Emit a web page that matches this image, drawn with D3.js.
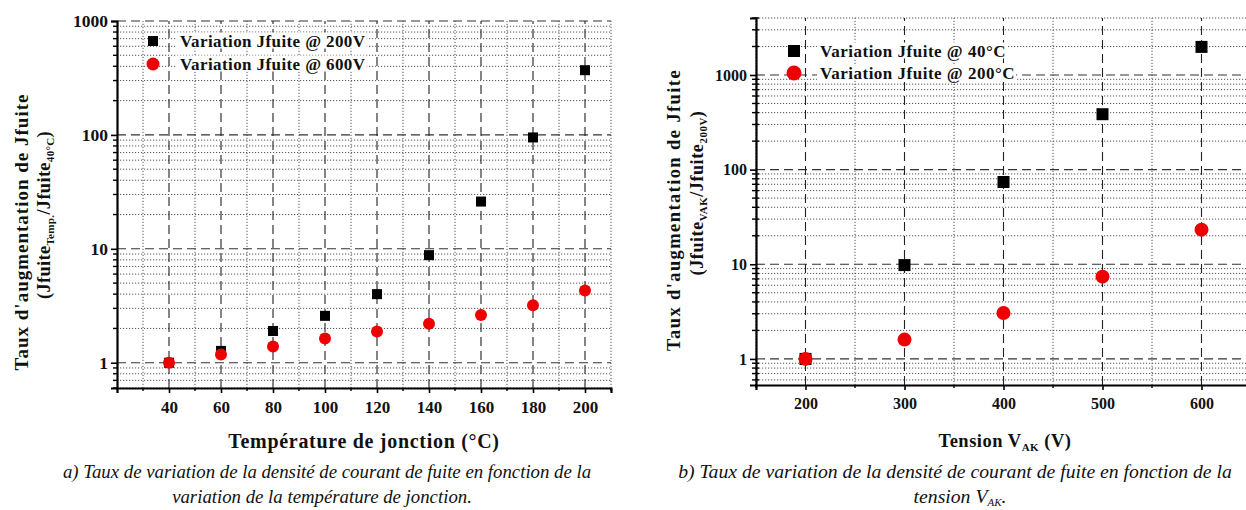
<!DOCTYPE html>
<html><head><meta charset="utf-8">
<script src="https://cdn.jsdelivr.net/npm/d3@7"></script>
<style>
body{margin:0;background:#fff;}
svg{display:block;}
text{font-family:"Liberation Serif","DejaVu Serif",serif;fill:#111;}
</style></head>
<body>
<svg id="c" width="1246" height="510"></svg>
<script>
// ---- Data: chart a (temperature) ----
const tempX = [40, 60, 80, 100, 120, 140, 160, 180, 200];
const rate200V = [1, 1.27, 1.9, 2.58, 4.0, 8.8, 26, 95, 370];
const rate600V = [1, 1.18, 1.39, 1.63, 1.88, 2.2, 2.63, 3.2, 4.3];
const tempTicks = [40, 60, 80, 100, 120, 140, 160, 180, 200];
const tempMinor = [30, 50, 70, 90, 110, 130, 150, 170, 190, 210];
const yTicksA = [1, 10, 100, 1000];
const legendA = ["Variation Jfuite @ 200V", "Variation Jfuite @ 600V"];

// ---- Data: chart b (voltage) ----
const vakX = [200, 300, 400, 500, 600];
const rate40C = [1, 9.8, 74, 385, 1980];
const rate200C = [1, 1.6, 3.05, 7.4, 23.2];
const vakTicks = [200, 300, 400, 500, 600];
const vakMinor = [150, 250, 350, 450, 550, 650];
const yTicksB = [1, 10, 100, 1000];
const legendB = ["Variation Jfuite  @ 40°C", "Variation Jfuite  @ 200°C"];

const svg = d3.select("#c");

function minorVals(lo, hi){
  const out=[];
  for(let e=-1;e<=4;e++){
    for(let m=2;m<=9;m++){
      const v=m*Math.pow(10,e);
      if(v>=lo*0.999 && v<=hi*1.001) out.push(v);
    }
  }
  return out;
}

function drawChart(cfg){
  const g = svg.append("g");
  const x = d3.scaleLinear().domain(cfg.xDomain).range(cfg.xRange);
  const y = d3.scaleLog().domain(cfg.yDomain).range(cfg.yRange);
  const [x0,x1]=cfg.xRange, [y0,y1]=cfg.yRange;
  const gridRight = cfg.gridRight;

  const yMin = minorVals(cfg.yDomain[0], cfg.yDomain[1]);
  g.selectAll(".hm").data(yMin).join("line")
    .attr("x1",x0).attr("x2",gridRight).attr("y1",d=>y(d)).attr("y2",d=>y(d))
    .attr("stroke","#555").attr("stroke-width",1).attr("stroke-dasharray","1.2,1.8");
  g.selectAll(".vm").data(cfg.xMinor).join("line")
    .attr("x1",d=>x(d)).attr("x2",d=>x(d)).attr("y1",y0).attr("y2",y1)
    .attr("stroke","#555").attr("stroke-width",1).attr("stroke-dasharray","1.2,1.8");
  g.selectAll(".hM").data(cfg.yTicks).join("line")
    .attr("x1",x0).attr("x2",gridRight).attr("y1",d=>y(d)).attr("y2",d=>y(d))
    .attr("stroke","#333").attr("stroke-width",1.1).attr("stroke-dasharray","9,5");
  g.selectAll(".vM").data(cfg.xTicks).join("line")
    .attr("x1",d=>x(d)).attr("x2",d=>x(d)).attr("y1",y0).attr("y2",y1)
    .attr("stroke","#222").attr("stroke-width",1.1).attr("stroke-dasharray","9,5");

  // legend
  const lg = g.append("g");
  cfg.legend.forEach((t,i)=>{
    const ly = cfg.legendY[i];
    const tx = lg.append("text").attr("x",cfg.legendTextX).attr("y",ly+5.5)
      .attr("font-size",cfg.legendFont).attr("font-weight","bold")
      .attr("letter-spacing",cfg.legendLS).text(t);
    const bb = tx.node().getBBox();
    lg.insert("rect","text").attr("x",bb.x-3).attr("y",bb.y+1).attr("width",bb.width+4).attr("height",bb.height-3).attr("fill","#fff");
  });
  lg.append("rect").attr("x",cfg.legendMarkX-cfg.legSq/2).attr("y",cfg.legendY[0]-cfg.legSq/2)
    .attr("width",cfg.legSq).attr("height",cfg.legSq).attr("fill","#000");
  lg.append("circle").attr("cx",cfg.legendMarkX).attr("cy",cfg.legendY[1]).attr("r",cfg.legR).attr("fill","#ee0000");

  // axes
  const yAxis = d3.axisLeft(y).tickValues(cfg.yTicks).tickFormat(d3.format("d")).tickSize(cfg.yTickLen).tickPadding(3);
  const ya = g.append("g").attr("transform",`translate(${x0},0)`).call(yAxis);
  ya.select(".domain").attr("stroke","#000").attr("stroke-width",2.2);
  ya.selectAll(".tick line").attr("stroke","#000").attr("stroke-width",1.6);
  ya.selectAll("text").attr("font-size",cfg.yTickFont).attr("font-weight","bold").attr("fill","#111")
    .attr("font-family",'"Liberation Serif",serif');
  g.selectAll(".ymt").data(yMin).join("line")
    .attr("x1",x0-cfg.yMinorLen).attr("x2",x0+cfg.yMinorIn).attr("y1",d=>y(d)).attr("y2",d=>y(d))
    .attr("stroke","#000").attr("stroke-width",1.4);

  const xAxis = d3.axisBottom(x).tickValues(cfg.xTicks).tickFormat(d3.format("d")).tickSize(5).tickPadding(8);
  const xa = g.append("g").attr("transform",`translate(0,${y0})`).call(xAxis);
  xa.select(".domain").attr("stroke","#000").attr("stroke-width",2.2);
  xa.selectAll(".tick line").attr("stroke","#000").attr("stroke-width",1.6);
  xa.selectAll("text").attr("font-size",cfg.xTickFont).attr("font-weight","bold").attr("fill","#111")
    .attr("font-family",'"Liberation Serif",serif');
  g.selectAll(".xmt").data(cfg.xMinor.filter(d=>x(d)<=x1)).join("line")
    .attr("x1",d=>x(d)).attr("x2",d=>x(d)).attr("y1",y0).attr("y2",y0+3)
    .attr("stroke","#000").attr("stroke-width",1.4);

  // data
  g.selectAll(".sq").data(cfg.xs).join("rect")
    .attr("x",(d,i)=>x(d)-cfg.sq/2).attr("y",(d,i)=>y(cfg.s1[i])-cfg.sq/2)
    .attr("width",cfg.sq).attr("height",cfg.sq).attr("fill","#000");
  g.selectAll(".ci").data(cfg.xs).join("circle")
    .attr("cx",d=>x(d)).attr("cy",(d,i)=>y(cfg.s2[i])).attr("r",cfg.r).attr("fill","#ee0000");
  return g;
}

drawChart({
  xDomain:[20,210], xRange:[117,611], yDomain:[0.6,1000], yRange:[388,21], gridRight:611,
  xTicks:tempTicks, xMinor:tempMinor, yTicks:yTicksA,
  xs:tempX, s1:rate200V, s2:rate600V, sq:10, r:6,
  legend:legendA, legendY:[41,64], legendTextX:180, legendMarkX:153, legSq:10, legR:6.5, legendFont:17, legendLS:0.4,
  yTickLen:6, yMinorLen:4, yMinorIn:0, yTickFont:17.5, xTickFont:17
});

drawChart({
  xDomain:[150,650], xRange:[756,1251], yDomain:[0.53,4000], yRange:[385,18], gridRight:1246,
  xTicks:vakTicks, xMinor:vakMinor, yTicks:yTicksB,
  xs:vakX, s1:rate40C, s2:rate200C, sq:12, r:7,
  legend:legendB, legendY:[51,73], legendTextX:820, legendMarkX:794, legSq:12, legR:7.5, legendFont:17, legendLS:0.5,
  yTickLen:6, yMinorLen:4, yMinorIn:3, yTickFont:16, xTickFont:16
});

// ---- titles ----
function rotTitle(cx, cy, parts, size, ls){
  const t = svg.append("text").attr("transform",`translate(${cx},${cy}) rotate(-90)`)
    .attr("text-anchor","middle").attr("font-size",size).attr("font-weight","bold")
    .attr("letter-spacing",ls||0);
  parts.forEach(p=>{
    const ts = t.append("tspan").text(p.t);
    if(p.sub){ ts.attr("font-size",size*0.6).attr("dy",4); }
    else if(p.after){ ts.attr("dy",-4); }
  });
  return t;
}
rotTitle(28, 232, [{t:"Taux d'augmentation de Jfuite"}], 19, 1);
rotTitle(50, 215, [{t:"(Jfuite"},{t:"Temp.",sub:true},{t:"/Jfuite",after:true},{t:"40°C",sub:true},{t:")",after:true}], 18.5, 0.3);
rotTitle(680, 210, [{t:"Taux d'augmentation de Jfuite"}], 18.5, 1.4);
rotTitle(703, 193, [{t:"(Jfuite"},{t:"VAK",sub:true},{t:"/Jfuite",after:true},{t:"200V",sub:true},{t:")",after:true}], 18, 0.6);

svg.append("text").attr("x",364).attr("y",448).attr("text-anchor","middle")
  .attr("font-size",20).attr("font-weight","bold").attr("letter-spacing",0.7).text("Température de jonction (°C)");
const tb = svg.append("text").attr("x",1005).attr("y",447).attr("text-anchor","middle")
  .attr("font-size",18.5).attr("font-weight","bold").attr("letter-spacing",0.5);
tb.append("tspan").text("Tension V");
tb.append("tspan").text("AK").attr("font-size",11).attr("dy",4);
tb.append("tspan").text(" (V)").attr("dy",-4);

// captions
function cap(x,y,s,size){ return svg.append("text").attr("x",x).attr("y",y).attr("text-anchor","middle")
  .attr("font-size",size).attr("font-style","italic").text(s); }
cap(327, 478, "a) Taux de variation de la densité de courant de fuite en fonction de la", 18.8);
cap(322, 503, "variation de la température de jonction.", 18.8);
cap(955, 478, "b) Taux de variation de la densité de courant de fuite en fonction de la", 19.7);
const c2 = svg.append("text").attr("x",960).attr("y",503).attr("text-anchor","middle")
  .attr("font-size",19.7).attr("font-style","italic");
c2.append("tspan").text("tension V");
c2.append("tspan").text("AK").attr("font-size",11).attr("dy",3);
c2.append("tspan").text(".").attr("dy",-3);
</script>
</body></html>
